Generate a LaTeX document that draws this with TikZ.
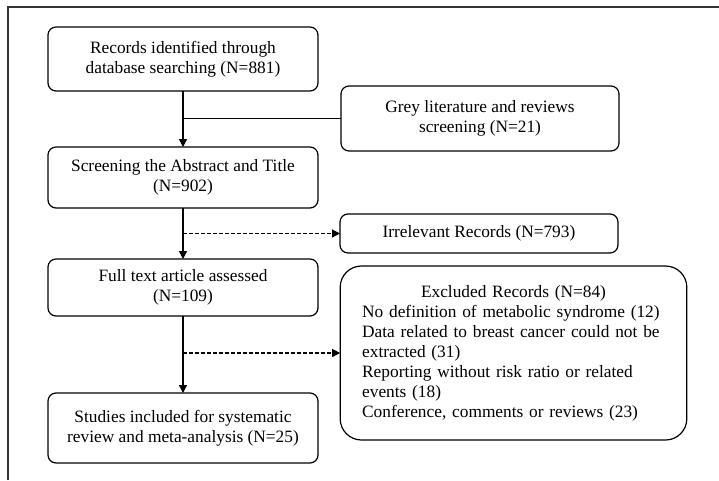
\documentclass[tikz,border=0pt]{standalone}
\usepackage{fontspec}
\setmainfont{Liberation Serif}
\usetikzlibrary{arrows.meta, positioning}

\begin{document}
\begin{tikzpicture}[x=0.75pt, y=-0.75pt, node distance=40pt,
    box/.style={rectangle, rounded corners=6pt, draw=black, line width=0.9pt,
                minimum width=202.5pt, align=center, inner sep=2pt, outer sep=0pt,
                font=\fontsize{13}{15}\selectfont},
    arrow/.style={-{Triangle[length=6pt, width=6pt]}, line width=0.9pt},
    dasharrow/.style={arrow, dash pattern=on 3pt off 1.5pt}]

    % Frame
    \useasboundingbox (0,0) rectangle (719,480);
    \draw[line width=0.8pt, black!80] (8,480) -- (8,7) -- (719,7);

    % Nodes
    \node[box, minimum height=48pt] (records) at (183,59) {Records identified through\\database searching (N=881)};
    \node[box, minimum height=45.75pt, below=42pt of records] (screening) {Screening the Abstract and Title\\(N=902)};
    \node[box, minimum height=42.75pt, below=38.25pt of screening] (fulltext) {Full text article assessed\\(N=109)};
    \node[box, minimum height=52.5pt, below=57.75pt of fulltext] (included) {Studies included for systematic\\review and meta-analysis (N=25)};

    \node[box, minimum width=208.5pt, minimum height=48.75pt] (grey) at (480,118.5) {Grey literature and reviews\\screening (N=21)};
    \node[box, minimum width=208.5pt, minimum height=29.25pt] (irrelevant) at (479,233.5) {Irrelevant Records (N=793)};
    \node[box, rounded corners=16pt, minimum width=260pt, minimum height=130.5pt,
          text width=227pt, align=left] (excluded) at (513.5,353)
        {\makebox[\linewidth]{Excluded Records (N=84)}\\
         No definition of metabolic syndrome (12)\\
         Data related to breast cancer could not be\\
         extracted (31)\\
         Reporting without risk ratio or related\\
         events (18)\\
         Conference, comments or reviews (23)};

    % Arrows
    \draw[arrow] (records) -- (screening);
    \draw[line width=0.9pt] (grey.west) -- (grey.west -| records.south);
    \draw[arrow] (screening) -- (fulltext);
    \draw[dasharrow] (screening.south |- irrelevant.west) -- (irrelevant.west);
    \draw[arrow] (fulltext) -- (included);
    \draw[dasharrow] (fulltext.south |- excluded.west) -- (excluded.west);

\end{tikzpicture}
\end{document}
